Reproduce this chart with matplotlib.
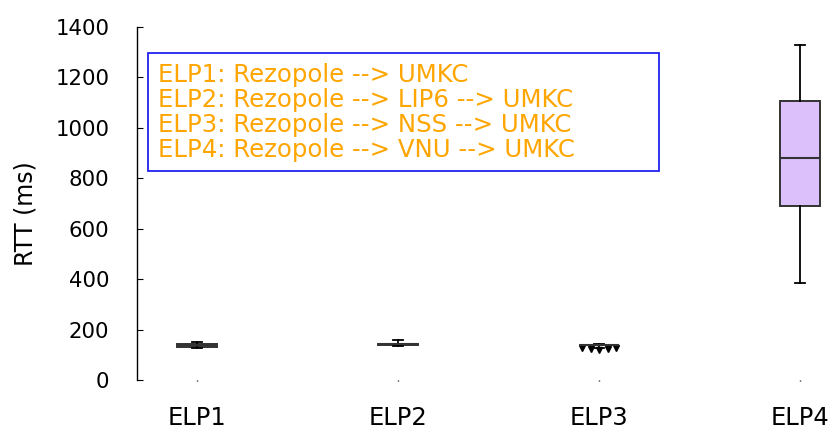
import matplotlib
matplotlib.use("Agg")
import matplotlib.pyplot as plt
from matplotlib.patches import Rectangle

plt.rcParams['font.family'] = ['DejaVu Sans']

labels = ['ELP1', 'ELP2', 'ELP3', 'ELP4']
whislo = [125, 136, 128, 383]
q1 = [130, 139, 137, 691]
med = [137, 141, 139, 882]
q3 = [144, 142, 140, 1108]
whishi = [150, 160, 141, 1330]
elp3_fliers = [125, 124, 120, 124, 125]

routes = ['ELP1: Rezopole --> UMKC',
          'ELP2: Rezopole --> LIP6 --> UMKC',
          'ELP3: Rezopole --> NSS --> UMKC',
          'ELP4: Rezopole --> VNU --> UMKC']

fig = plt.figure(figsize=(8.33, 4.30), dpi=100)
ax = fig.add_axes([137/833, 50/430, (833-137)/833, 353/430])

stats = []
for i in range(len(labels)):
    stats.append(dict(label=labels[i], whislo=whislo[i], q1=q1[i], med=med[i],
                      q3=q3[i], whishi=whishi[i], fliers=[]))

ax.bxp(stats, positions=[1, 2, 3, 4], widths=0.2, patch_artist=True,
       boxprops=dict(facecolor='#dcc0fc', edgecolor='#333333', linewidth=1.4),
       medianprops=dict(color='#333333', linewidth=1.5),
       whiskerprops=dict(color='black', linewidth=1.3),
       capprops=dict(color='black', linewidth=1.3), capwidths=0.05)

# outliers of ELP3, spread a little so they don't overlap
xs = [3 - 0.085, 3 - 0.04, 3, 3 + 0.045, 3 + 0.085]
ax.plot(xs, elp3_fliers, 'v', color='black', markersize=4.5)

ax.set_xlim(0.70, 4.164)
ax.set_ylim(0, 1400)
ax.set_yticks(range(0, 1401, 200))
for s in ['top', 'right', 'bottom']:
    ax.spines[s].set_visible(False)
ax.spines['left'].set_linewidth(1.0)
ax.tick_params(axis='y', direction='in', length=4, pad=20, labelsize=15.3)
ax.tick_params(axis='x', direction='out', length=1, width=1, pad=18, labelsize=17.5)
ax.set_ylabel('RTT (ms)', fontsize=17)
ax.yaxis.set_label_coords(-0.143, 0.47)

# legend-like box with route descriptions
ax.add_patch(Rectangle((0.0158, 0.593), 0.734, 0.334, transform=ax.transAxes,
                       facecolor='white', edgecolor='#2222ee', linewidth=1.3,
                       zorder=3))
for k, r in enumerate(routes):
    ax.text(0.030, 0.845 - k * 0.0708, r, transform=ax.transAxes,
            fontsize=17.6, color='#ffa500', va='baseline', ha='left', zorder=4)

fig.savefig('out.png', dpi=100)
